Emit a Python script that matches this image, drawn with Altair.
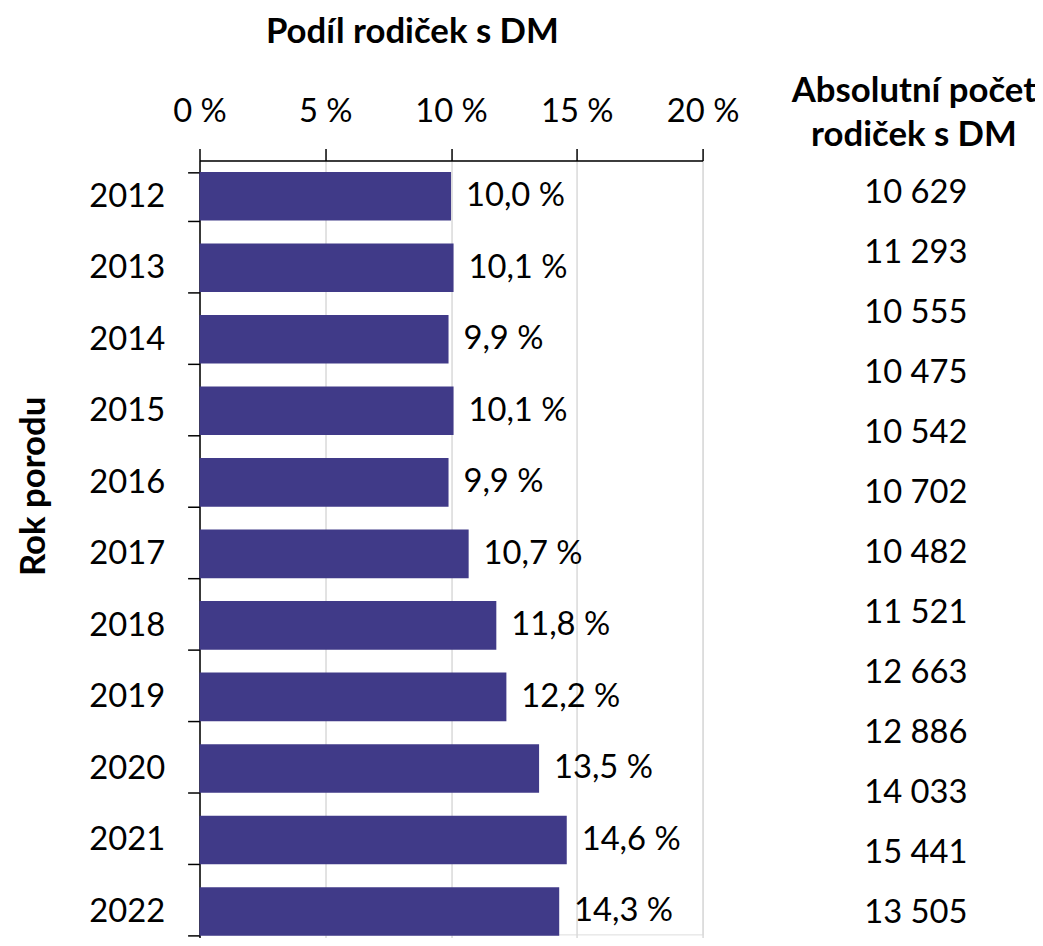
import altair as alt
import pandas as pd

# ---- data ----
years = ["2012", "2013", "2014", "2015", "2016", "2017", "2018", "2019", "2020", "2021", "2022"]
shares = [10.0, 10.1, 9.9, 10.1, 9.9, 10.7, 11.8, 12.2, 13.5, 14.6, 14.3]
counts = [10629, 11293, 10555, 10475, 10542, 10702, 10482, 11521, 12663, 12886, 14033, 15441, 13505]
x_ticks = [0, 5, 10, 15, 20]
header_lines = "Absolutní počet\nrodiček s DM"

FONT = "Lato"
BAR = "#403a88"
FS = 33      # regular text
FSB = 35     # bold titles

bars_df = pd.DataFrame({"year": years, "share": shares})
counts_df = pd.DataFrame({"pos": list(range(len(counts))), "n": counts})
header_df = pd.DataFrame({"t": [header_lines]})

x_share = alt.X(
    "share:Q",
    scale=alt.Scale(domain=[0, 20], nice=False, zero=True),
    axis=alt.Axis(
        orient="top",
        values=x_ticks,
        labelExpr="datum.value + ' %'",
        labelFont=FONT, labelFontSize=FS, labelColor="black",
        labelPadding=20, labelFlush=False, labelOverlap=False,
        tickSize=12, tickColor="black", tickWidth=1.5,
        domainColor="black", domainWidth=1.5,
        grid=True, gridColor="#d9d9d9", gridWidth=1.5,
        title="Podíl rodiček s DM",
        titleFont=FONT, titleFontSize=FSB, titleFontWeight="bold", titleColor="black",
        titleX=214, titleY=-119, titleAlign="center", titleBaseline="alphabetic",
    ),
)

y_year = alt.Y(
    "year:O",
    sort=years,
    scale=alt.Scale(range=[0, 793], paddingInner=0.32),
    axis=alt.Axis(
        title="Rok porodu",
        titleFont=FONT, titleFontSize=FSB, titleFontWeight="bold", titleColor="black",
        titleAngle=270, titleX=-156, titleY=328, titleAlign="center", titleBaseline="alphabetic",
        labelFont=FONT, labelFontSize=FS, labelColor="black", labelPadding=23,
        tickSize=12, tickColor="black", tickWidth=1.5, tickBand="extent",
        domainColor="black", domainWidth=1.5, grid=False,
    ),
)

base = alt.Chart(bars_df)

bars = base.mark_bar(color=BAR).encode(x=x_share, y=y_year)

bar_labels = base.transform_calculate(
    lbl="replace(format(datum.share, '.1f'), '.', ',') + ' %'"
).mark_text(
    align="left", baseline="middle", dx=15, font=FONT, fontSize=FS, color="black"
).encode(x=x_share, y=y_year, text="lbl:N")

main = alt.layer(bars, bar_labels)

count_text = alt.Chart(counts_df).transform_calculate(
    lbl="replace(format(datum.n, ','), ',', ' ')"
).mark_text(
    align="center", baseline="middle", font=FONT, fontSize=FS, color="black"
).encode(
    x=alt.value(722),
    y=alt.Y("pos:O", scale=alt.Scale(range=[3, 789], paddingInner=0, paddingOuter=0), axis=None),
    text="lbl:N",
)

header = alt.Chart(header_df).mark_text(
    align="center", baseline="alphabetic", lineBreak="\n", lineHeight=44,
    font=FONT, fontSize=FSB, fontWeight="bold", color="black"
).encode(x=alt.value(720), y=alt.value(-59), text="t:N")

chart = alt.layer(main, count_text, header).resolve_scale(y="independent").properties(
    width=507,
    height=780,
    autosize=alt.AutoSizeParams(type="none"),
    padding={"left": 193, "top": 150, "right": 335, "bottom": 0},
).configure_view(stroke=None).configure(background="white")

chart.save("out.html", embed_options={"renderer": "svg", "actions": False})
